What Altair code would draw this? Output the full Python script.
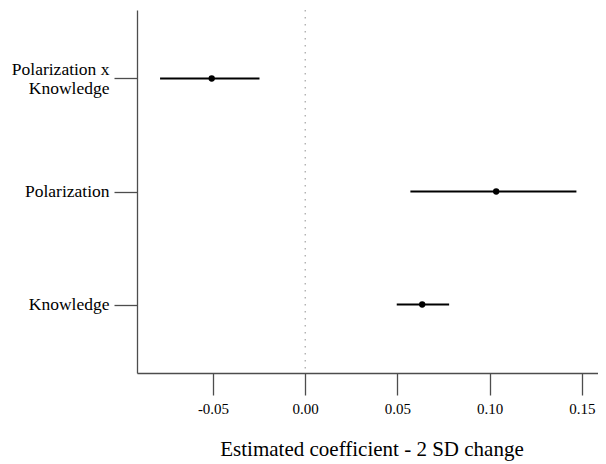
import altair as alt
import pandas as pd

terms = ["Polarization x Knowledge", "Polarization", "Knowledge"]
estimate = [-0.0507, 0.1035, 0.0634]
lower = [-0.0787, 0.0570, 0.0496]
upper = [-0.0248, 0.1470, 0.0780]
x_ticks = [-0.05, 0.0, 0.05, 0.10, 0.15]

df = pd.DataFrame({"term": terms, "est": estimate, "lo": lower, "hi": upper})

FONT = "Liberation Serif"
AXIS_COLOR = "#4d4d4d"

x_scale = alt.Scale(domain=[-0.0912, 0.1587], nice=False, zero=False)
y_scale = alt.Scale(domain=terms, type="point", padding=0.606)

x_axis = alt.Axis(
    values=x_ticks,
    labelExpr="(datum.value < 0 ? '-' : '') + format(abs(datum.value), '.2f')",
    title="Estimated coefficient - 2 SD change",
    grid=False,
    tickSize=22,
    labelPadding=6,
    labelFontSize=15,
    titleFontSize=21,
    titleFontWeight="normal",
    titleBaseline="alphabetic",
    titleAlign="center",
    titleX=234.5,
    titleY=82,
    domainColor=AXIS_COLOR,
    tickColor=AXIS_COLOR,
    domainWidth=1.3,
    tickWidth=1.3,
    labelColor="black",
    titleColor="black",
    labelFont=FONT,
    titleFont=FONT,
)
y_axis = alt.Axis(
    title=None,
    grid=False,
    tickSize=23,
    labelPadding=5,
    labelFontSize=17.5,
    labelLineHeight=19,
    labelOffset={
        "condition": {"test": "datum.value == 'Polarization x Knowledge'", "value": -9},
        "value": 0,
    },
    labelExpr="datum.value == 'Polarization x Knowledge' ? ['Polarization x', 'Knowledge'] : datum.value",
    domainColor=AXIS_COLOR,
    tickColor=AXIS_COLOR,
    domainWidth=1.3,
    tickWidth=1.3,
    labelColor="black",
    labelFont=FONT,
    labelBaseline="middle",
)

zero_rule = alt.Chart(pd.DataFrame({"z": [0.0]})).mark_rule(
    color="#aaaaaa", strokeDash=[1.5, 5.5], strokeWidth=1.3
).encode(x=alt.X("z:Q", scale=x_scale, axis=x_axis))

bars = alt.Chart(df).mark_rule(color="black", strokeWidth=2).encode(
    x=alt.X("lo:Q", scale=x_scale, axis=x_axis),
    x2="hi:Q",
    y=alt.Y("term:N", scale=y_scale, axis=y_axis, sort=terms),
)

points = alt.Chart(df).mark_circle(color="black", size=40, opacity=1).encode(
    x=alt.X("est:Q", scale=x_scale, axis=x_axis),
    y=alt.Y("term:N", scale=y_scale, axis=y_axis, sort=terms),
)

chart = (
    alt.layer(zero_rule, bars, points)
    .properties(
        width=461,
        height=363,
        autosize=alt.AutoSizeParams(type="none"),
        padding={"left": 129, "top": 2, "right": 0, "bottom": 91},
        background="white",
    )
    .configure_view(stroke=None)
)

chart.save("out.html", embed_options={"renderer": "svg", "actions": False})
